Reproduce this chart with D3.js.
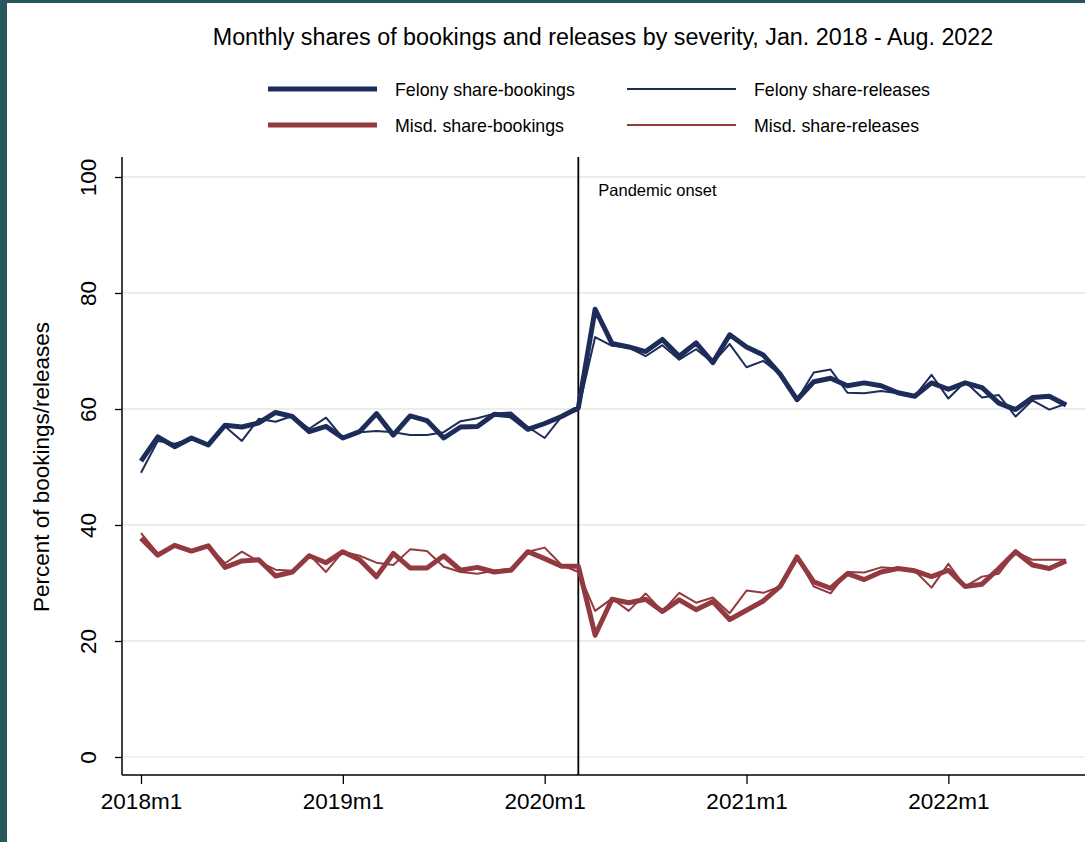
<!DOCTYPE html>
<html>
<head>
<meta charset="utf-8">
<script src="https://cdn.jsdelivr.net/npm/d3@7"></script>
<style>
  body { margin: 0; background: #ffffff; }
  svg { display: block; }
  text { font-family: "Liberation Sans", Arial, Helvetica, sans-serif; fill: #000; }
</style>
</head>
<body>
<div id="chart"></div>
<script>
// months from 2018m1 to 2022m8 (index 0..55)
const nMonths = 56;
const xTickLabels = ["2018m1", "2019m1", "2020m1", "2021m1", "2022m1"];
const yTicks = [0, 20, 40, 60, 80, 100];
const pandemicMonth = 26; // 2020m3

const felonyBookings = [
  51.0, 55.2, 53.5, 55.0, 53.8, 57.2, 56.9, 57.6, 59.4, 58.7, 56.1, 57.0,
  55.0, 56.1, 59.2, 55.5, 58.8, 58.0, 55.0, 56.9, 57.0, 59.1, 58.8, 56.5,
  57.5, 58.7, 60.2, 77.2, 71.3, 70.7, 69.9, 72.0, 69.1, 71.4, 68.0, 72.8,
  70.7, 69.3, 66.0, 61.6, 64.7, 65.3, 64.0, 64.5, 64.0, 62.8, 62.2, 64.5,
  63.4, 64.5, 63.7, 61.0, 59.9, 62.0, 62.2, 60.7
];
const felonyReleases = [
  49.0, 54.5, 54.0, 54.8, 53.8, 57.0, 54.5, 58.3, 57.8, 58.8, 56.6, 58.5,
  55.0, 56.0, 56.2, 56.0, 55.5, 55.5, 56.0, 57.9, 58.4, 59.2, 59.4, 56.9,
  55.0, 58.7, 59.8, 72.4, 70.9, 70.6, 69.1, 71.0, 68.5, 70.3, 68.0, 71.2,
  67.2, 68.3, 66.0, 61.6, 66.3, 66.8, 62.8, 62.7, 63.1, 62.7, 62.2, 65.9,
  61.8, 64.7, 62.0, 62.4, 58.7, 61.5, 59.9, 60.9
];
const misdBookings = [
  37.7, 34.8, 36.5, 35.5, 36.4, 32.7, 33.8, 34.0, 31.2, 31.9, 34.7, 33.5,
  35.4, 34.0, 31.1, 35.1, 32.6, 32.6, 34.7, 32.2, 32.7, 31.9, 32.2, 35.4,
  34.2, 32.9, 32.9, 21.0, 27.2, 26.6, 27.2, 25.1, 27.1, 25.4, 26.8, 23.7,
  25.3, 26.9, 29.4, 34.5, 30.2, 29.1, 31.6, 30.6, 31.9, 32.5, 32.1, 31.1,
  32.2, 29.4, 29.8, 32.5, 35.4, 33.1, 32.5, 33.8
];
const misdReleases = [
  38.6, 35.1, 36.5, 35.5, 36.4, 33.4, 35.4, 33.7, 32.3, 32.1, 34.9, 31.9,
  35.4, 34.7, 33.5, 33.1, 35.8, 35.5, 32.8, 31.9, 31.6, 32.1, 32.5, 35.4,
  36.1, 33.1, 31.9, 25.2, 27.3, 25.2, 28.2, 25.1, 28.3, 26.6, 27.5, 24.8,
  28.7, 28.3, 29.4, 34.5, 29.4, 28.2, 31.9, 31.8, 32.7, 32.5, 32.1, 29.2,
  33.3, 29.4, 31.1, 31.6, 35.4, 34.0, 34.0, 34.0
];

const navy = "#1d2c58";
const maroon = "#923a40";

const series = [
  { name: "Felony share-bookings", values: felonyBookings, color: navy, width: 5 },
  { name: "Felony share-releases", values: felonyReleases, color: navy, width: 2 },
  { name: "Misd. share-bookings", values: misdBookings, color: maroon, width: 5 },
  { name: "Misd. share-releases", values: misdReleases, color: maroon, width: 2 }
];

const W = 1085, H = 842;
const svg = d3.select("#chart").append("svg").attr("width", W).attr("height", H);

// outer frame (teal border seen on the left and top edges)
svg.append("rect").attr("x", 0).attr("y", 0).attr("width", W).attr("height", H).attr("fill", "#27575c");
svg.append("rect").attr("x", 7).attr("y", 3).attr("width", W - 7).attr("height", H - 3).attr("fill", "#ffffff");

const plot = { left: 122, top: 157, bottom: 775, right: W + 20 };

const x = d3.scaleLinear().domain([0, nMonths - 1]).range([141, 141 + 55 * 16.82]);
const y = d3.scaleLinear().domain([0, 100]).range([757, 177]);

// gridlines
svg.append("g").selectAll("line").data(yTicks.slice(1)).enter().append("line")
  .attr("x1", plot.left).attr("x2", plot.right)
  .attr("y1", d => y(d)).attr("y2", d => y(d))
  .attr("stroke", "#e6e6e6").attr("stroke-width", 1.5);
svg.append("line")
  .attr("x1", plot.left).attr("x2", plot.right)
  .attr("y1", y(0)).attr("y2", y(0))
  .attr("stroke", "#ececec").attr("stroke-width", 1.5);

// y axis
const yAxis = d3.axisLeft(y).tickValues(yTicks).tickSize(7).tickPadding(9);
const yg = svg.append("g").attr("transform", `translate(${plot.left},0)`).call(yAxis);
yg.select(".domain").remove();
yg.selectAll(".tick line").attr("stroke", "#000").attr("stroke-width", 1.3);
yg.selectAll(".tick text")
  .attr("font-size", 22.5)
  .attr("text-anchor", "middle")
  .attr("transform", "translate(-26,0) rotate(-90)")
  .attr("x", 0).attr("dy", "0");
svg.append("line").attr("x1", plot.left).attr("x2", plot.left)
  .attr("y1", plot.top).attr("y2", plot.bottom)
  .attr("stroke", "#000").attr("stroke-width", 1.5);

// x axis
const tickIdx = xTickLabels.map((d, i) => i * 12);
const xAxis = d3.axisBottom(x).tickValues(tickIdx).tickSize(9).tickPadding(6)
  .tickFormat((d, i) => xTickLabels[i]);
const xg = svg.append("g").attr("transform", `translate(0,${plot.bottom})`).call(xAxis);
xg.select(".domain").remove();
xg.selectAll(".tick line").attr("stroke", "#000").attr("stroke-width", 1.3);
xg.selectAll(".tick text").attr("font-size", 22.5).attr("dy", "0.85em");
svg.append("line").attr("x1", plot.left).attr("x2", plot.right)
  .attr("y1", plot.bottom).attr("y2", plot.bottom)
  .attr("stroke", "#000").attr("stroke-width", 1.5);

// y label
svg.append("text")
  .attr("transform", `translate(49,${(plot.top + plot.bottom) / 2 + 1}) rotate(-90)`)
  .attr("text-anchor", "middle").attr("font-size", 22.5)
  .text("Percent of bookings/releases");

// pandemic line
svg.append("line")
  .attr("x1", x(pandemicMonth)).attr("x2", x(pandemicMonth))
  .attr("y1", plot.top).attr("y2", plot.bottom)
  .attr("stroke", "#000").attr("stroke-width", 1.8);
svg.append("text").attr("x", x(pandemicMonth) + 20).attr("y", 196)
  .attr("font-size", 16.5).text("Pandemic onset");

// lines
const line = d3.line().x((d, i) => x(i)).y(d => y(d)).curve(d3.curveLinear);
const drawOrder = [series[2], series[3], series[0], series[1]];
svg.append("g").selectAll("path").data(drawOrder).enter().append("path")
  .attr("d", d => line(d.values))
  .attr("fill", "none")
  .attr("stroke", d => d.color)
  .attr("stroke-width", d => d.width)
  .attr("stroke-linejoin", "round");

// title
svg.append("text").attr("x", 603).attr("y", 45).attr("text-anchor", "middle")
  .attr("font-size", 23.3).text("Monthly shares of bookings and releases by severity, Jan. 2018 - Aug. 2022");

// legend
const legendPos = [
  { x: 268, y: 89 }, { x: 627, y: 89 },
  { x: 268, y: 125 }, { x: 627, y: 125 }
];
const lg = svg.append("g").selectAll("g").data(series).enter().append("g")
  .attr("transform", (d, i) => `translate(${legendPos[i].x},${legendPos[i].y})`);
lg.append("line").attr("x1", 0).attr("x2", 109).attr("y1", 0).attr("y2", 0)
  .attr("stroke", d => d.color).attr("stroke-width", d => d.width);
lg.append("text").attr("x", 127).attr("y", 6.5).attr("font-size", 17.8).text(d => d.name);
</script>
</body>
</html>
